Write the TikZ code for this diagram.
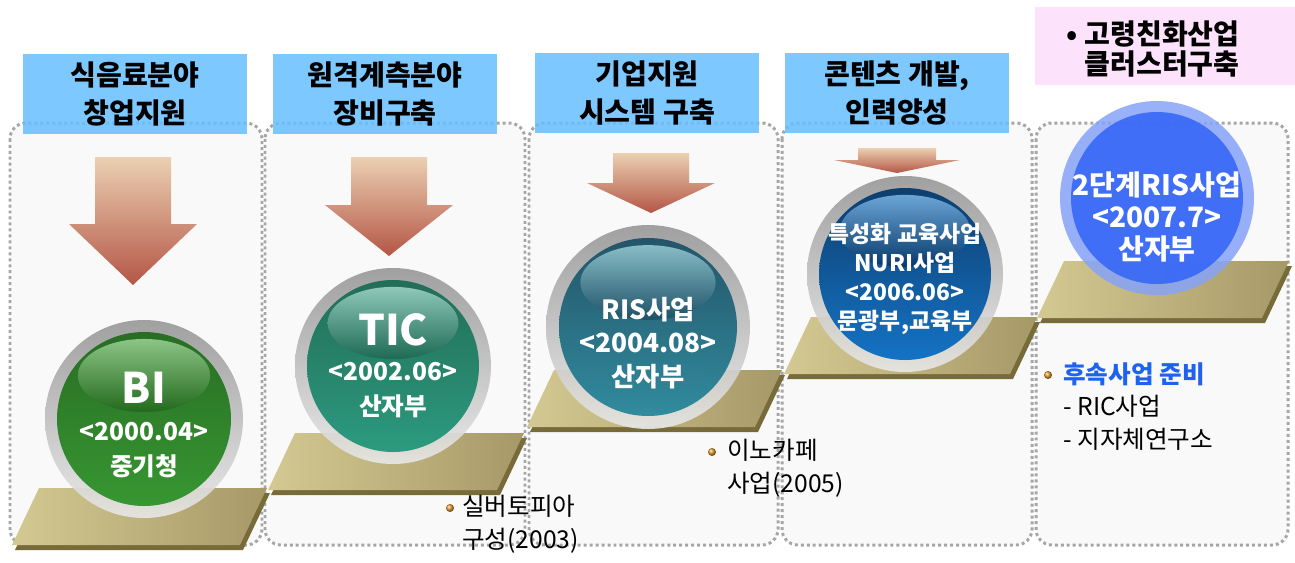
\documentclass[tikz,border=0pt]{standalone}
\usepackage{fontspec}
\setmainfont{Noto Sans CJK KR}
\usepackage{tikz}
\usetikzlibrary{positioning}

\definecolor{headblue}{HTML}{66BEFF}
\definecolor{headpink}{HTML}{FCE2FA}
\definecolor{panelfill}{HTML}{F9F9F9}
\definecolor{dotgray}{HTML}{A6A6A6}
\definecolor{arrowtop}{HTML}{EBD0B2}
\definecolor{arrowmid}{HTML}{D9A981}
\definecolor{arrowbot}{HTML}{B45646}
\definecolor{stepleft}{HTML}{D4C992}
\definecolor{stepright}{HTML}{A69968}
\definecolor{stepdark}{HTML}{776B3A}
\definecolor{ringtop}{HTML}{979797}
\definecolor{ringbot}{HTML}{E8E8E8}
\definecolor{maingreen}{HTML}{226A1D}
\definecolor{lowgreen}{HTML}{2F9429}
\definecolor{highgreen}{HTML}{8DC487}
\definecolor{mainteal}{HTML}{1D6A53}
\definecolor{lowteal}{HTML}{22987B}
\definecolor{highteal}{HTML}{8FC8B8}
\definecolor{mainsea}{HTML}{1D5166}
\definecolor{lowsea}{HTML}{29879B}
\definecolor{highsea}{HTML}{88BDC7}
\definecolor{mainnavy}{HTML}{06396B}
\definecolor{lownavy}{HTML}{0A6EC4}
\definecolor{highnavy}{HTML}{6AA5D5}
\definecolor{halo}{HTML}{86A3F8}
\definecolor{coreblue}{HTML}{3767F6}
\definecolor{nextblue}{HTML}{1E62F0}
\definecolor{bulletgold}{HTML}{E09A28}

\begin{document}
\begin{tikzpicture}[x=0.02cm,y=-0.02cm,
	panel/.style={fill=panelfill, draw=dotgray, line width=1.7pt, dash pattern=on 1.7pt off 1.7pt, rounded corners=9pt},
	headbox/.style={fill=headblue, fill opacity=0.85, text opacity=1, minimum width=4.5cm, minimum height=1.6cm, inner sep=0pt, align=center, font=\fontsize{16}{21.5}\selectfont\bfseries},
	pinktext/.style={align=right, anchor=east, inner sep=0pt, font=\fontsize{16}{17.5}\selectfont\bfseries},
	bigtext/.style={text=white, inner sep=0pt, font=\fontsize{24}{26}\selectfont\bfseries},
	balltext/.style={text=white, align=center, inner sep=0pt, font=\fontsize{14}{19.8}\selectfont\bfseries},
	notetext/.style={align=left, anchor=west, inner sep=0pt, font=\fontsize{14}{18.5}\selectfont}]
	\useasboundingbox (0,0) rectangle (1295,562);
	% Panels %
	\foreach \xa/\xb in {10/262, 265/525, 529/778, 782/1032, 1036/1288}
		{\filldraw[panel] (\xa,123) rectangle (\xb,545);}
	% Headers %
	\node[headbox] (food) at (135,94) {식음료분야\\창업지원};
	\node[headbox] (remote) at (385,94) {원격계측분야\\장비구축};
	\node[headbox] (firm) at (647,93) {기업지원\\시스템 구축};
	\node[headbox] (content) at (897,93) {콘텐츠 개발,\\인력양성};
	\fill[headpink] (1035,7) rectangle (1295,85);
	\node[pinktext] (aging) at (1240,49) {• 고령친화산업\\클러스터구축};
	% Arrows %
	\foreach \cx/\ytop/\yhead/\ytip/\sw/\hw in {133/157/224/285/38/64, 389/157/205/256/38/64, 651/153/183/213/38/64, 897/148/160/173/39/63}
		{\shade[top color=arrowtop, middle color=arrowmid, bottom color=arrowbot]
			(\cx-\sw,\ytop) -- (\cx+\sw,\ytop) -- (\cx+\sw,\yhead) -- (\cx+\hw,\yhead)
			-- (\cx,\ytip) -- (\cx-\hw,\yhead) -- (\cx-\sw,\yhead) -- cycle;}
	% Steps %
	\foreach \bx/\by/\w in {12/545/228, 268/490/229, 527/427/228, 784/374/226, 1037/318/225}
		{\fill[stepdark] (\bx+3,\by+5) -- ++(\w,0) -- ++(27,-57) -- ++(-\w,0) -- cycle;
		 \shade[left color=stepleft, right color=stepright] (\bx,\by) -- ++(\w,0) -- ++(27,-57) -- ++(-\w,0) -- cycle;}
	% Balls %
	\foreach \cx/\cy/\ro/\ri/\col in {144/419/99/87/green, 393/366/98/86/teal, 648/327/102/89/sea, 905/274/98/86/navy}
		{\shade[top color=ringtop, bottom color=ringbot, opacity=0.9] (\cx,\cy) circle (\ro);
		 \shade[top color=main\col, middle color=main\col, bottom color=low\col, opacity=0.95] (\cx,\cy) circle (\ri);
		 \shade[top color=high\col, middle color=main\col, bottom color=main\col] (\cx,\cy-0.5*\ri) ellipse [x radius=0.76*\ri, y radius=0.42*\ri];}
	\fill[halo, opacity=0.85] (1157,198) circle (97);
	\fill[coreblue, opacity=0.9] (1157,198) circle (86);
	% Ball Texts %
	\node[bigtext] (bi) at (144,388) {BI};
	\node[balltext] (bidate) at (144,450) {<2000.04>\\중기청};
	\node[bigtext] (tic) at (393,330) {TIC};
	\node[balltext] (ticdate) at (393,390) {<2002.06>\\산자부};
	\node[balltext, font=\fontsize{15}{19}\selectfont\bfseries] (ris) at (648,343) {RIS사업\\<2004.08>\\산자부};
	\node[balltext, font=\fontsize{13}{16.4}\selectfont\bfseries] (nuri) at (905,279) {특성화 교육사업\\NURI사업\\<2006.06>\\문광부,교육부};
	\node[balltext, font=\fontsize{16}{18.4}\selectfont\bfseries] (ristwo) at (1157,217) {2단계RIS사업\\<2007.7>\\산자부};
	% Notes %
	\shade[ball color=bulletgold] (450,508) circle (4);
	\node[notetext] (silver) at (462,524) {실버토피아\\구성(2003)};
	\shade[ball color=bulletgold] (712,452) circle (4);
	\node[notetext] (innocafe) at (727,468) {이노카페\\사업(2005)};
	\shade[ball color=bulletgold] (1048,375) circle (4);
	\node[notetext, anchor=north west] (followup) at (1063,362) {{\color{nextblue}\bfseries 후속사업 준비}\\- RIC사업\\- 지자체연구소};
\end{tikzpicture}
\end{document}
